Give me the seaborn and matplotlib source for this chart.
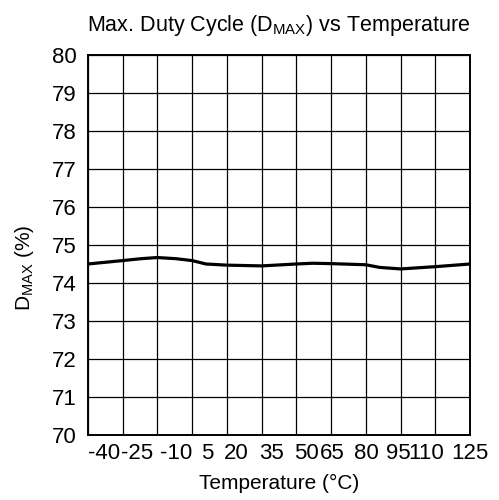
import numpy as np
import pandas as pd
import matplotlib
matplotlib.use('Agg')
import matplotlib.pyplot as plt
import matplotlib.transforms as mtransforms
import seaborn as sns

# data
temperature = [-40, -25, -17, -10, -2, 5, 11, 20, 35, 50, 57, 65, 80, 86, 95, 110, 125]
dmax = [74.50, 74.59, 74.64, 74.67, 74.64, 74.59, 74.50, 74.47, 74.45, 74.50, 74.52,
        74.51, 74.48, 74.41, 74.37, 74.43, 74.50]
x_ticks = list(range(-40, 126, 15))
y_ticks = list(range(70, 81))
# the original tick labels sit a little off their grid lines (pixels)
x_label_shift = [16, 14, 19, 15, 9, 10, 10, 1, 1, -2, -9, 0]

sns.set_style('white')
plt.rcParams['font.family'] = ['Liberation Sans', 'DejaVu Sans']
plt.rcParams['mathtext.fontset'] = 'custom'
plt.rcParams['mathtext.rm'] = 'Liberation Sans'
plt.rcParams['mathtext.it'] = 'Liberation Sans'
plt.rcParams['axes.unicode_minus'] = False
plt.rcParams['text.color'] = 'black'
plt.rcParams['axes.labelcolor'] = 'black'
plt.rcParams['xtick.color'] = 'black'
plt.rcParams['ytick.color'] = 'black'

df = pd.DataFrame({'temp': temperature, 'dmax': dmax})

fig = plt.figure(figsize=(4.99, 5.0), dpi=100)
ax = fig.add_axes([0.176, 0.13, 0.766, 0.76])

sns.lineplot(data=df, x='temp', y='dmax', ax=ax, color='black', linewidth=2.3)

ax.set_xlim(-40, 125)
ax.set_ylim(70, 80)
ax.set_xticks(x_ticks)
ax.set_yticks(y_ticks)
ax.tick_params(axis='x', length=0, labelsize=16, pad=6, labelcolor='black')
ax.tick_params(axis='y', length=0, labelsize=16, pad=8, labelcolor='black')
ax.grid(True, color='black', linewidth=0.9)
for s in ax.spines.values():
    s.set_color('black')
    s.set_linewidth(1.4)

for lab, dx in zip(ax.get_xticklabels(), x_label_shift):
    lab.set_transform(lab.get_transform() +
                      mtransforms.ScaledTranslation(dx / 100, 0, fig.dpi_scale_trans))

ax.set_xlabel('Temperature (°C)', fontsize=15, labelpad=7, color='black')
ax.set_ylabel(r'D$_{\mathrm{MAX}}$ (%)', fontsize=15, labelpad=8, color='black')
ax.yaxis.set_label_coords(-0.135, 0.44)
ax.set_title(r'Max. Duty Cycle (D$_{\mathrm{MAX}}$) vs Temperature', fontsize=15.5, pad=17,
             color='black')

fig.savefig('out.png', dpi=100)
